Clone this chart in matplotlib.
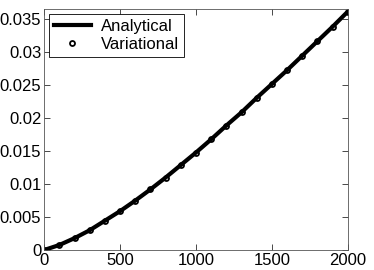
import matplotlib
matplotlib.use('Agg')
import matplotlib.pyplot as plt

plt.rcParams['font.family'] = ['Liberation Sans', 'DejaVu Sans']
plt.rcParams['font.size'] = 12

# dados
x = [0, 100, 200, 300, 400, 500, 600, 700, 800, 900, 1000,
     1100, 1200, 1300, 1400, 1500, 1600, 1700, 1800, 1900, 2000]
analitico = [0, 0.00076, 0.0018, 0.0030, 0.00445, 0.0059, 0.0075, 0.0092, 0.0110, 0.0129, 0.0148,
             0.0168, 0.0189, 0.0209, 0.0231, 0.0252, 0.0273, 0.0295, 0.0317, 0.0339, 0.0362]
variacional = [0, 0.00076, 0.0018, 0.0030, 0.00445, 0.0059, 0.0075, 0.0092, 0.0110, 0.0129, 0.0148,
               0.0168, 0.0189, 0.0209, 0.0231, 0.0252, 0.0273, 0.0295, 0.0317, 0.0339, 0.0362]

fig = plt.figure(figsize=(3.74, 2.70), dpi=100)
ax = fig.add_axes([0.118, 0.074, 0.812, 0.893])

ax.plot(x, analitico, color='black', linewidth=3, label='Analytical')
ax.plot(x, variacional, linestyle='none', marker='o', markersize=3.6,
        markerfacecolor='none', markeredgecolor='black', markeredgewidth=1.3,
        label='Variational')

ax.set_xlim(0, 2000)
ax.set_ylim(0, 0.0366)
ax.set_xticks([0, 500, 1000, 1500, 2000])
ax.set_yticks([0, 0.005, 0.01, 0.015, 0.02, 0.025, 0.03, 0.035])
ax.set_yticklabels(['0', '0.005', '0.01', '0.015', '0.02', '0.025', '0.03', '0.035'])

ax.tick_params(direction='in', length=4, width=0.5, top=True, right=True, pad=2)
for s in ax.spines.values():
    s.set_linewidth(0.6)
    s.set_color('#555555')

leg = ax.legend(loc='upper left', fancybox=False, edgecolor='black',
                framealpha=1, borderaxespad=0.3, handlelength=2.2,
                borderpad=0.3, labelspacing=0.2, handletextpad=0.6)
leg.get_frame().set_linewidth(0.6)

fig.savefig('out.png', dpi=100)
